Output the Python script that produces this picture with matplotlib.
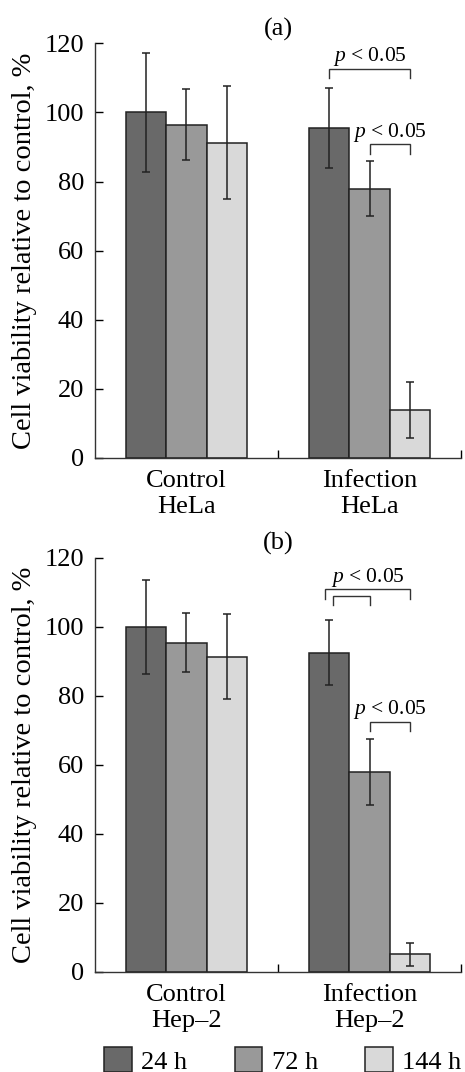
import numpy as np
import matplotlib
matplotlib.use("Agg")
import matplotlib.pyplot as plt
from matplotlib.patches import Patch

plt.rcParams['font.family'] = ['Liberation Serif', 'DejaVu Serif']
plt.rcParams['mathtext.fontset'] = 'custom'
plt.rcParams['mathtext.it'] = 'Liberation Serif:italic'
plt.rcParams['mathtext.rm'] = 'Liberation Serif'

# data
series = ['24 h', '72 h', '144 h']
colors = ['#696969', '#999999', '#d9d9d9']

groups_a = ['Control\nHeLa', 'Infection\nHeLa']
means_a = [[100.0, 95.5], [96.5, 77.9], [91.3, 13.7]]
errs_a = [[17.1, 11.7], [10.2, 7.9], [16.4, 8.1]]

groups_b = ['Control\nHep\u20132', 'Infection\nHep\u20132']
means_b = [[100.0, 92.5], [95.4, 57.9], [91.3, 5.1]]
errs_b = [[13.6, 9.5], [8.5, 9.6], [12.3, 3.3]]

# significance brackets: (group, bar from, bar to, height, label, nudge from, nudge to)
brackets_a = [(1, 0, 2, 112.6, True, 0.0, 0.0),
              (1, 1, 2, 90.8, True, 0.0, 0.0)]
brackets_b = [(1, 0, 2, 110.8, True, -0.02, 0.0),
              (1, 0, 1, 109.0, False, 0.025, 0.0),
              (1, 1, 2, 72.5, True, 0.0, 0.0)]

W = 0.222
EDGE = '#222222'


def panel(ax, labels, means, errs, brackets, title):
    centers = np.arange(len(labels)) + 0.5
    for i in range(len(series)):
        x = centers + (i - 1) * W
        ax.bar(x, means[i], W, color=colors[i], edgecolor=EDGE, linewidth=1.1,
               yerr=errs[i], capsize=2.6,
               error_kw=dict(ecolor=EDGE, elinewidth=1.1, capthick=1.1))
    for g, b0, b1, y, lab, n0, n1 in brackets:
        x0 = centers[g] + (b0 - 1) * W + n0
        x1 = centers[g] + (b1 - 1) * W + n1
        drop = 2.7
        ax.plot([x0, x0, x1, x1], [y - drop, y, y, y - drop], color='#333333',
                lw=1.0, solid_joinstyle='miter')
        if lab:
            ax.text((x0 + x1) / 2, y + 2.2, r'$p$ < 0.05', ha='center',
                    va='baseline', fontsize=15.5)
    ax.set_xlim(0, 2)
    ax.set_ylim(0, 120)
    ax.set_yticks(np.arange(0, 121, 20))
    ax.set_xticks(centers)
    ax.set_xticklabels(labels)
    ax.set_xticks([1, 2], minor=True)
    ax.tick_params(axis='x', which='major', length=0, pad=9, labelsize=19)
    ax.tick_params(axis='x', which='minor', direction='in', length=6, width=1.0)
    ax.tick_params(axis='y', direction='in', length=6, width=1.0, pad=8,
                   labelsize=19)
    for s in ['top', 'right']:
        ax.spines[s].set_visible(False)
    for s in ['left', 'bottom']:
        ax.spines[s].set_linewidth(1.0)
        ax.spines[s].set_color('#333333')
    ax.set_ylabel('Cell viability relative to control, %', fontsize=20.5)
    ax.set_title(title, fontsize=19, pad=6)


fig = plt.figure(figsize=(4.65, 10.72), dpi=100)
ax1 = fig.add_axes([0.2043, 0.5730, 0.7871, 0.3865])
ax2 = fig.add_axes([0.2043, 0.0933, 0.7871, 0.3865])
panel(ax1, groups_a, means_a, errs_a, brackets_a, '(a)')
panel(ax2, groups_b, means_b, errs_b, brackets_b, '(b)')
for ax in (ax1, ax2):
    ax.yaxis.set_label_coords(-0.158, 0.5)

handles = [Patch(facecolor=c, edgecolor=EDGE, linewidth=1.1) for c in colors]
fig.legend(handles, series, loc='upper left', bbox_to_anchor=(0.2237, 0.023),
           ncol=3, frameon=False, fontsize=19, borderpad=0, borderaxespad=0,
           handlelength=1.05, handleheight=1.05, handletextpad=0.35,
           columnspacing=1.8)

fig.savefig('out.png', dpi=100)
